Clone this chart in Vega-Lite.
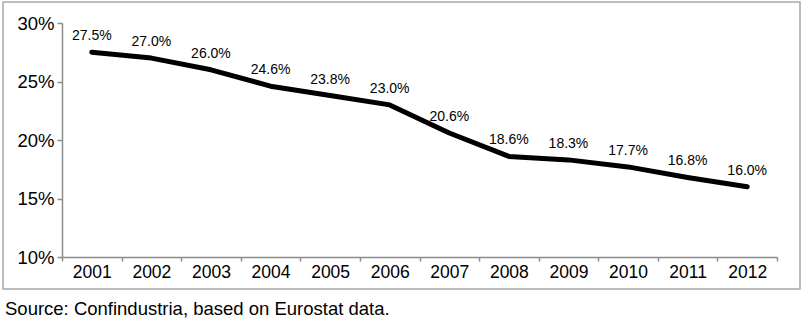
{
  "$schema": "https://vega.github.io/schema/vega-lite/v6.json",
  "width": 715,
  "height": 234,
  "autosize": {"type": "none"},
  "padding": {"left": 62, "top": 23, "right": 27, "bottom": 64},
  "background": "white",
  "config": {
    "view": {"stroke": null},
    "font": "Liberation Sans",
    "axis": {"grid": false, "labelFont": "Liberation Sans", "labelColor": "black", "labelFontSize": 17, "domainColor": "#8c8c8c", "tickColor": "#8c8c8c", "domainWidth": 1.5, "tickWidth": 1.5}
  },
  "title": {"text": "Source: Confindustria, based on Eurostat data.", "orient": "bottom", "anchor": "start", "frame": "group", "dx": -57, "offset": 10, "fontSize": 18.5, "fontWeight": "normal", "font": "Liberation Sans", "color": "black"},
  "data": {"values": [
    {"year": "2001", "share": 0.275},
    {"year": "2002", "share": 0.270},
    {"year": "2003", "share": 0.260},
    {"year": "2004", "share": 0.246},
    {"year": "2005", "share": 0.238},
    {"year": "2006", "share": 0.230},
    {"year": "2007", "share": 0.206},
    {"year": "2008", "share": 0.186},
    {"year": "2009", "share": 0.183},
    {"year": "2010", "share": 0.177},
    {"year": "2011", "share": 0.168},
    {"year": "2012", "share": 0.160}
  ]},
  "encoding": {
    "x": {"field": "year", "type": "ordinal", "scale": {"type": "band", "paddingInner": 0, "paddingOuter": 0},
      "axis": {"title": null, "labelAngle": 0, "tickBand": "extent", "tickSize": 4, "labelPadding": 2, "labelFontSize": 17.5}},
    "y": {"field": "share", "type": "quantitative", "scale": {"domain": [0.1, 0.3], "nice": false, "zero": false},
      "axis": {"title": null, "format": ".0%", "values": [0.1, 0.15, 0.2, 0.25, 0.3], "tickSize": 5, "labelPadding": 3, "labelFontSize": 18.5}}
  },
  "layer": [
    {
      "data": {"values": [{"frame": 1}]},
      "mark": {"type": "rect", "fill": null, "stroke": "#a8a8a8", "strokeWidth": 1.5, "clip": false},
      "encoding": {
        "x": {"value": -59}, "x2": {"value": 738},
        "y": {"value": -21}, "y2": {"value": 266}
      }
    },
    {
      "mark": {"type": "line", "color": "black", "strokeWidth": 5, "strokeCap": "round", "strokeJoin": "round"}
    },
    {
      "mark": {"type": "text", "baseline": "bottom", "dy": -9, "fontSize": 14, "font": "Liberation Sans", "color": "black"},
      "encoding": {"text": {"field": "share", "type": "quantitative", "format": ".1%"}}
    }
  ]
}
